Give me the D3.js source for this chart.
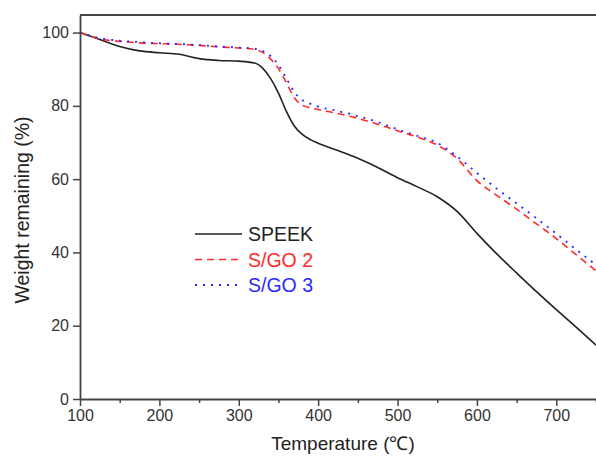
<!DOCTYPE html>
<html>
<head>
<meta charset="utf-8">
<script src="https://cdn.jsdelivr.net/npm/d3@7"></script>
<style>
  body { margin: 0; background: #fff; }
  text { font-family: Arial, "Liberation Sans", sans-serif; }
</style>
</head>
<body>
<div id="chart"></div>
<script>
const temps = [100,125,150,175,200,225,250,275,300,320,330,340,350,360,370,380,390,400,425,450,475,500,525,550,575,600,625,650,675,700,725,750];
const speek = [100,98.1,96.2,95.0,94.5,94.1,92.9,92.4,92.2,91.7,90.3,87.5,83.5,78.5,74.5,72.2,70.8,69.8,67.8,65.7,63.2,60.4,57.9,55.2,51.2,45.2,39.6,34.4,29.3,24.4,19.6,14.7];
const sgo2 = [100,98.3,97.6,97.2,97.0,96.8,96.5,96.1,95.8,95.4,94.6,92.8,90.2,86.3,82.2,80.2,79.5,79.0,77.9,76.6,75.0,73.2,71.5,69.3,65.6,59.6,55.6,51.8,47.8,43.8,39.4,35.0];
const sgo3 = [100,98.5,97.8,97.4,97.1,96.9,96.6,96.2,95.9,95.6,95.0,93.6,91.2,87.5,83.8,81.6,80.6,79.8,78.6,77.2,75.6,73.6,71.8,69.9,66.2,61.7,57.4,53.4,49.3,45.1,40.8,36.6];
const seriesNames = ["SPEEK", "S/GO 2", "S/GO 3"];
const xTicks = [100,200,300,400,500,600,700];
const xMinor = [150,250,350,450,550,650,750];
const yTicks = [0,20,40,60,80,100];

const width = 596, height = 457;
const margin = {left: 80, top: 15, right: 0, bottom: 58};

const svg = d3.select("#chart").append("svg")
    .attr("width", width)
    .attr("height", height);

const x = d3.scaleLinear().domain([100, 750]).range([margin.left, width - margin.right]);
const y = d3.scaleLinear().domain([0, 104.8]).range([height - margin.bottom, margin.top]);

const series = [
    {name: seriesNames[0], values: speek, color: "#222", dash: null, w: 1.6},
    {name: seriesNames[1], values: sgo2, color: "#ff2a2a", dash: "7,5", w: 1.6},
    {name: seriesNames[2], values: sgo3, color: "#2a2aff", dash: "2,6", w: 1.8}
];

const line = d3.line()
    .x((d, i) => x(temps[i]))
    .y(d => y(d))
    .curve(d3.curveMonotoneX);

// curves first, axes on top
series.forEach(s => {
    svg.append("path")
        .datum(s.values)
        .attr("fill", "none")
        .attr("stroke", s.color)
        .attr("stroke-width", s.w)
        .attr("stroke-dasharray", s.dash)
        .attr("d", line);
});

// top frame line
svg.append("line")
    .attr("x1", x(100)).attr("x2", width)
    .attr("y1", y(104.8)).attr("y2", y(104.8))
    .attr("stroke", "#444").attr("stroke-width", 1.8);

svg.append("g")
    .attr("transform", `translate(0,${y(0)})`)
    .call(d3.axisBottom(x).tickValues(xTicks).tickSize(7).tickPadding(4).tickSizeOuter(0));

svg.append("g")
    .attr("transform", `translate(0,${y(0)})`)
    .call(d3.axisBottom(x).tickValues(xMinor).tickSize(4).tickFormat("").tickSizeOuter(0))
    .select(".domain").remove();

svg.append("g")
    .attr("transform", `translate(${x(100)},0)`)
    .call(d3.axisLeft(y).tickValues(yTicks).tickSize(7).tickPadding(4).tickSizeOuter(0));

svg.selectAll(".domain").attr("stroke", "#444").attr("stroke-width", 1.8);
svg.selectAll(".tick line").attr("stroke", "#444").attr("stroke-width", 1.5);
svg.selectAll(".tick text").attr("fill", "#333").style("font-size", "16px");

// axis titles
svg.append("text")
    .attr("x", 343).attr("y", 450)
    .attr("text-anchor", "middle")
    .attr("fill", "#222")
    .style("font-size", "19px")
    .text("Temperature (℃)");

svg.append("text")
    .attr("transform", "translate(29,210) rotate(-90)")
    .attr("text-anchor", "middle")
    .attr("fill", "#222")
    .style("font-size", "19.5px")
    .text("Weight remaining (%)");

// legend
const legend = svg.append("g");
series.forEach((s, i) => {
    const ly = 234 + i * 25.5;
    legend.append("line")
        .attr("x1", 195).attr("x2", 242)
        .attr("y1", ly).attr("y2", ly)
        .attr("stroke", s.color)
        .attr("stroke-width", s.w)
        .attr("stroke-dasharray", s.dash);
    legend.append("text")
        .attr("x", 248).attr("y", ly)
        .attr("dy", "0.36em")
        .attr("fill", i === 0 ? "#222" : s.color)
        .style("font-size", "19.5px")
        .text(s.name);
});
</script>
</body>
</html>
